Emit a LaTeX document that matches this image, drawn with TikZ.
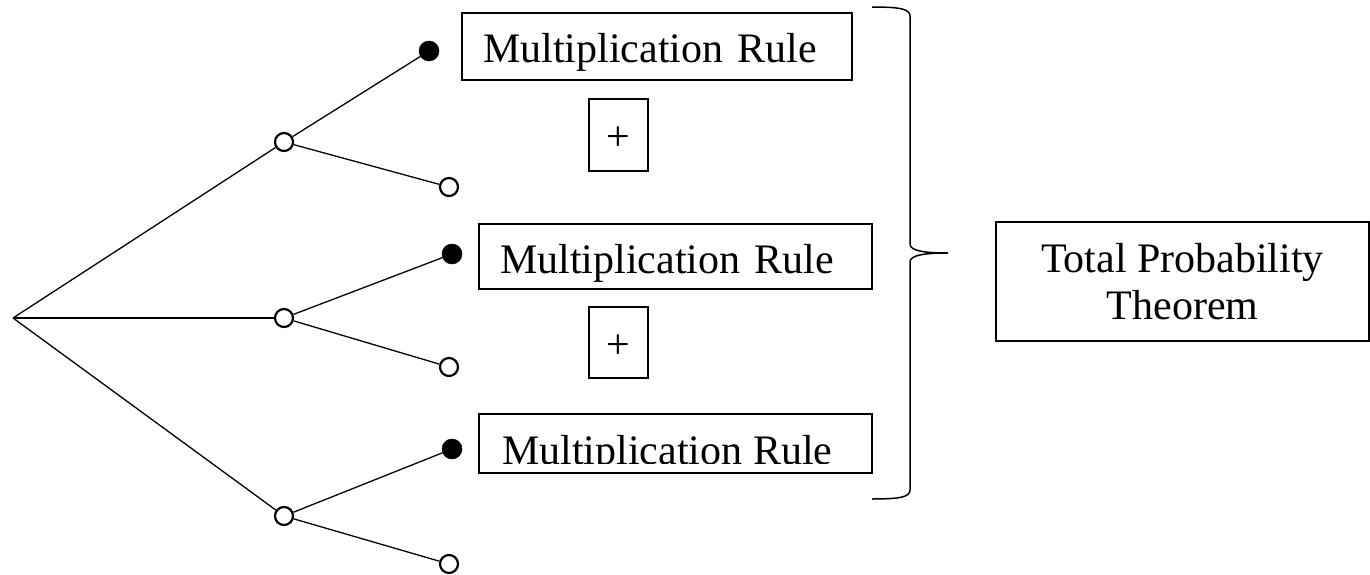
\documentclass[tikz,border=0pt]{standalone}
\usepackage{fontspec}
\setmainfont{Liberation Serif}
\begin{document}
\begin{tikzpicture}[x=1pt,y=-1pt,
  big/.style={font=\fontsize{42}{47}\selectfont},
  opendot/.style={circle,draw,line width=2.2pt,fill=white,minimum size=18pt,inner sep=0pt},
  fulldot/.style={circle,fill=black,draw=black,line width=0.5pt,minimum size=20pt,inner sep=0pt},
  branch/.style={line width=1.3pt},
  rulebox/.style={draw,line width=1.8pt,big,align=left,text height=32pt,text depth=0pt,inner ysep=0pt},
  plusbox/.style={draw,line width=1.8pt,big,text height=31pt,text depth=0pt,inner sep=0pt,minimum width=59pt},
  bracepath/.style={line width=1.5pt}]
\useasboundingbox (0,0) rectangle (1370,575);

% tree
\coordinate (root) at (13,318);
\node[opendot] (mA) at (284,142) {};
\node[opendot] (mB) at (284,318) {};
\node[opendot] (mC) at (284,516) {};
\node[fulldot] (fA) at (429,51) {};
\node[opendot] (oA) at (449,187) {};
\node[fulldot] (fB) at (452,254) {};
\node[opendot] (oB) at (449,367) {};
\node[fulldot] (fC) at (452,449) {};
\node[opendot] (oC) at (449,564) {};

\draw[branch] (root) -- (mA);
\draw[branch] (root) -- (mB);
\draw[branch] (root) -- (mC);
\draw[branch] (mA) -- (fA);
\draw[branch] (mA) -- (oA);
\draw[branch] (mB) -- (fB);
\draw[branch] (mB) -- (oB);
\draw[branch] (mC) -- (fC);
\draw[branch] (mC) -- (oC);

% boxes
\node[rulebox,inner xsep=21pt,text width=348pt,minimum height=67pt] (r1) at (657,46.5) {Multiplication Rule};
\node[plusbox,minimum height=72pt] (p1) at (618.5,135) {+};
\node[rulebox,inner xsep=21pt,text width=351pt,minimum height=65pt,text height=33pt] (r2) at (675.5,256.5) {Multiplication Rule};
\node[plusbox,minimum height=71pt] (p2) at (618.5,342.5) {+};
\node[draw,line width=1.8pt,minimum width=393pt,minimum height=59pt,inner sep=0pt] (r3) at (675.5,443.5) {};
\begin{scope}
  \clip (r3.north west) rectangle (872,463.5);
  \node[big,anchor=base west,inner sep=0pt] (r3t) at (502,464.5) {Multiplication Rule};
\end{scope}

% brace
\coordinate (bt) at (872,7);
\coordinate (tip) at (948,253);
\coordinate (bb) at (872,499);
\draw[bracepath] (bt) .. controls (900,7) and (910,9) .. (910,16) -- (910,244)
  .. controls (910,251) and (925,253) .. (tip)
  .. controls (925,253) and (910,255) .. (910,262) -- (910,490)
  .. controls (910,497) and (900,499) .. (bb);

% result
\node[draw,line width=1.8pt,big,align=center,minimum width=373pt,minimum height=119pt,inner sep=0pt] (tp) at (1182.5,281.5) {Total Probability\\Theorem};
\end{tikzpicture}
\end{document}
